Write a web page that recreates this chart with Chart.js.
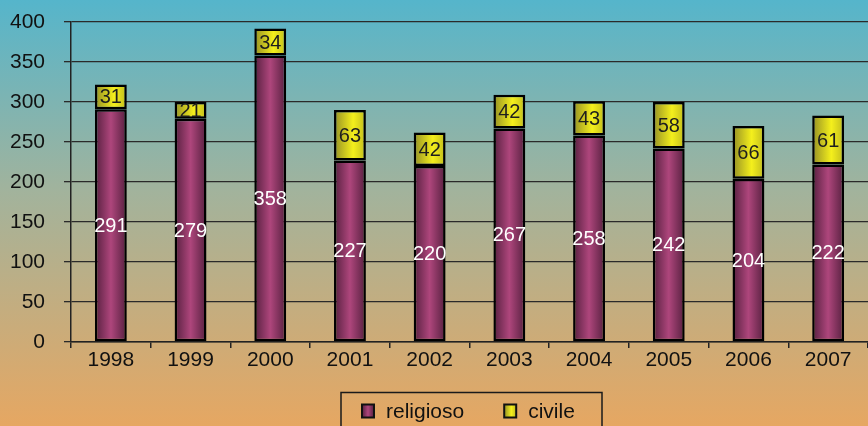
<!DOCTYPE html>
<html>
<head>
<meta charset="utf-8">
<title>religioso / civile 1998-2007</title>
<script src="https://cdn.jsdelivr.net/npm/chart.js@4/dist/chart.umd.min.js"></script>
<style>
  html, body { margin: 0; padding: 0; overflow: hidden; }
  #chart { display: block; }
</style>
</head>
<body>
<canvas id="chart" width="868" height="426"></canvas>
<script>
// data
const years = ['1998', '1999', '2000', '2001', '2002', '2003', '2004', '2005', '2006', '2007'];
const religioso = [291, 279, 358, 227, 220, 267, 258, 242, 204, 222];
const civile = [31, 21, 34, 63, 42, 42, 43, 58, 66, 61];
const yTicks = [0, 50, 100, 150, 200, 250, 300, 350, 400];

const FONT = "'Liberation Sans', Arial, sans-serif";
const BAR_PCT = 0.4;

// horizontal shading, like a cylinder
const purpleStops = [[0, '#56203f'], [0.5, '#ae467c'], [1, '#56203f']];
const yellowStops = [[0, '#948f26'], [0.6, '#f4ef1c'], [1, '#c0bb1e']];

function makeGradient(c, x0, x1, stops) {
    const g = c.createLinearGradient(x0, 0, x1, 0);
    stops.forEach(([p, col]) => g.addColorStop(p, col));
    return g;
}

function barFill(stops) {
    return (ctx) => {
        const xs = ctx.chart.scales.x;
        if (ctx.type !== 'data' || !xs || !xs.ticks || !xs.ticks.length) return stops[1][1];
        const cx = xs.getPixelForValue(ctx.dataIndex);
        const w = (xs.right - xs.left) / xs.ticks.length * BAR_PCT;
        return makeGradient(ctx.chart.ctx, cx - w / 2, cx + w / 2, stops);
    };
}

// page background gradient
const backgroundPlugin = {
    id: 'background',
    beforeDraw(chart) {
        const c = chart.ctx;
        const g = c.createLinearGradient(0, 0, 0, chart.height);
        g.addColorStop(0, '#55b5cb');
        g.addColorStop(0.45, '#a2b39c');
        g.addColorStop(1, '#e6a762');
        c.save();
        c.fillStyle = g;
        c.fillRect(0, 0, chart.width, chart.height);
        c.restore();
    }
};

// numbers written inside each segment
const valueLabelPlugin = {
    id: 'valueLabels',
    afterDatasetsDraw(chart) {
        const c = chart.ctx;
        c.save();
        c.font = '20px ' + FONT;
        c.textAlign = 'center';
        c.textBaseline = 'middle';
        chart.data.datasets.forEach((ds, i) => {
            chart.getDatasetMeta(i).data.forEach((bar, j) => {
                c.fillStyle = ds.labelColor;
                c.fillText(String(ds.data[j]), bar.x, (bar.y + bar.base) / 2 + 1);
            });
        });
        c.restore();
    }
};

// framed legend under the axis
const boxLegendPlugin = {
    id: 'boxLegend',
    afterDraw(chart) {
        const c = chart.ctx;
        const stops = [purpleStops, yellowStops];
        c.save();
        c.lineWidth = 1.5;
        c.strokeStyle = '#1a1a1a';
        c.strokeRect(341, 392.5, 261, 50);
        c.font = '21px ' + FONT;
        c.textBaseline = 'middle';
        let x = 362;
        chart.data.datasets.forEach((ds, i) => {
            c.fillStyle = makeGradient(c, x, x + 12, stops[i]);
            c.fillRect(x, 404.5, 12, 13);
            c.strokeStyle = '#111';
            c.lineWidth = 2;
            c.strokeRect(x, 404.5, 12, 13);
            c.fillStyle = '#111';
            c.fillText(ds.label, x + 24, 412);
            x += 24 + c.measureText(ds.label).width + 40;
        });
        c.restore();
    }
};

new Chart(document.getElementById('chart'), {
    type: 'bar',
    data: {
        labels: years,
        datasets: [
            {
                label: 'religioso',
                data: religioso,
                backgroundColor: barFill(purpleStops),
                labelColor: '#ffffff'
            },
            {
                label: 'civile',
                data: civile,
                backgroundColor: barFill(yellowStops),
                labelColor: '#1e1e1e'
            }
        ]
    },
    options: {
        responsive: false,
        animation: false,
        layout: { padding: { top: 22, right: 0, bottom: 0, left: 0 } },
        datasets: {
            bar: {
                categoryPercentage: 1,
                barPercentage: BAR_PCT,
                borderColor: '#000',
                borderWidth: 2.5,
                borderSkipped: false
            }
        },
        plugins: {
            legend: { display: false },
            tooltip: { enabled: false }
        },
        scales: {
            x: {
                stacked: true,
                afterFit(scale) { scale.height = 84; },
                grid: {
                    offset: true,
                    drawOnChartArea: false,
                    tickLength: 6,
                    color: '#222',
                    lineWidth: 1.5
                },
                border: { color: '#222', width: 1.5 },
                ticks: {
                    padding: 0,
                    color: '#111',
                    font: { family: FONT, size: 21 }
                }
            },
            y: {
                stacked: true,
                min: yTicks[0],
                max: yTicks[yTicks.length - 1],
                afterFit(scale) {
                    scale.width = 71;
                    scale.paddingTop = 0;
                    scale.paddingBottom = 0;
                },
                afterBuildTicks(scale) { scale.ticks = yTicks.map(v => ({ value: v })); },
                grid: {
                    color: '#2a2a2a',
                    lineWidth: 1.3,
                    tickLength: 7
                },
                border: { color: '#222', width: 1.5 },
                ticks: {
                    padding: 19,
                    color: '#111',
                    font: { family: FONT, size: 21 }
                }
            }
        }
    },
    plugins: [backgroundPlugin, valueLabelPlugin, boxLegendPlugin]
});
</script>
</body>
</html>
